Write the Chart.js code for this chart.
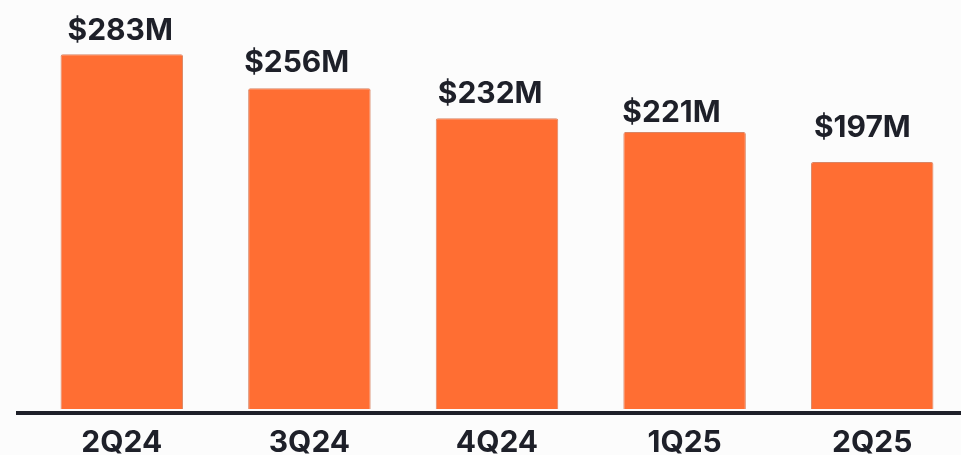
<!DOCTYPE html>
<html>
<head>
<meta charset="utf-8">
<title>Quarterly revenue</title>
<script src="https://cdn.jsdelivr.net/npm/chart.js@4.4.1/dist/chart.umd.min.js"></script>
<style>
  html, body { margin: 0; padding: 0; background: #fcfcfc; overflow: hidden; }
  #wrap { position: relative; width: 966px; height: 455px; }
</style>
</head>
<body>
<div id="wrap"><canvas id="chart"></canvas></div>
<script>
// Quarter names and revenue in millions of dollars
const quarters = ['2Q24', '3Q24', '4Q24', '1Q25', '2Q25'];
const revenue = [283, 256, 232, 221, 197];
const valueLabels = ['$283M', '$256M', '$232M', '$221M', '$197M'];

const INK = '#1e2029';
const ORANGE = '#ff6e33';
const FONT = 'Inter, "DejaVu Sans", sans-serif';

// Value captions above the bars; nudges keep each caption where the layout puts it
const valueCaptions = {
  id: 'valueCaptions',
  afterDatasetsDraw(chart, args, opts) {
    const ctx = chart.ctx;
    const meta = chart.getDatasetMeta(0);
    ctx.save();
    ctx.font = opts.font;
    ctx.fillStyle = opts.color;
    ctx.textAlign = 'left';
    ctx.textBaseline = 'alphabetic';
    meta.data.forEach((bar, i) => {
      const left = bar.x - bar.width / 2;
      const n = opts.nudges[i] || [0, 0];
      ctx.fillText(valueLabels[i], left + n[0], bar.y - n[1]);
    });
    ctx.restore();
  }
};

// Heavy baseline under the bars, with the quarter names beneath it
const baseLine = {
  id: 'baseLine',
  afterDatasetsDraw(chart, args, opts) {
    const ctx = chart.ctx;
    const xs = chart.scales.x;
    const y = chart.scales.y.getPixelForValue(0) + opts.gap;
    ctx.save();
    ctx.fillStyle = opts.color;
    ctx.fillRect(opts.from, y, chart.width - opts.from, opts.width);
    ctx.font = opts.font;
    ctx.textAlign = 'center';
    ctx.textBaseline = 'alphabetic';
    xs.ticks.forEach((t, i) => {
      ctx.fillText(xs.getLabelForValue(t.value), xs.getPixelForTick(i), y + opts.labelDrop);
    });
    ctx.restore();
  }
};

new Chart(document.getElementById('chart'), {
  type: 'bar',
  data: {
    labels: quarters,
    datasets: [{
      data: revenue,
      backgroundColor: ORANGE,
      borderColor: '#d98565',
      borderWidth: 1,
      borderSkipped: 'bottom',
      borderRadius: 2,
      barPercentage: 0.653,
      categoryPercentage: 1
    }]
  },
  options: {
    responsive: true,
    maintainAspectRatio: false,
    animation: false,
    layout: { padding: { left: 28, right: 0, top: 33, bottom: 46 } },
    plugins: {
      legend: { display: false },
      tooltip: { enabled: false },
      valueCaptions: {
        font: '700 30px ' + FONT,
        color: INK,
        nudges: [[7, 14], [-4, 16], [2, 15], [-1, 10], [3, 25]]
      },
      baseLine: { color: INK, from: 16, gap: 2, width: 4, font: '700 30px ' + FONT, labelDrop: 41 }
    },
    scales: {
      x: {
        display: false,
        ticks: { autoSkip: false }
      },
      y: {
        display: false,
        min: 0,
        max: 300
      }
    }
  },
  plugins: [valueCaptions, baseLine]
});
</script>
</body>
</html>
